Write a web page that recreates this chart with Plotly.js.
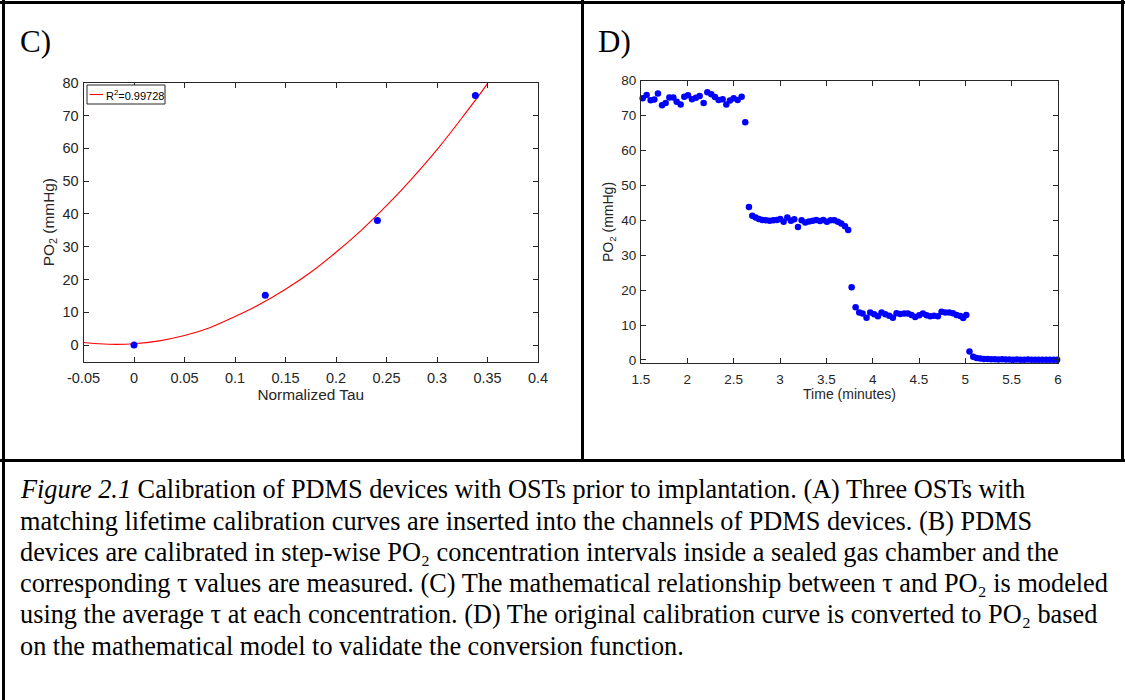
<!DOCTYPE html>
<html>
<head>
<meta charset="utf-8">
<script src="https://cdn.plot.ly/plotly-3.0.1.min.js"></script>
<style>
  html, body { margin: 0; padding: 0; background: #fff; }
  #chart { width: 1125px; height: 700px; }
</style>
</head>
<body>
<div id="chart"></div>
<script>
// ---------- Panel C data ----------
const cTau = [0, 0.13, 0.241, 0.338];
const cPO2 = [0, 15.2, 38.0, 76.1];
const fitTau = [-0.05, -0.025, 0, 0.025, 0.05, 0.075, 0.1, 0.125, 0.15, 0.175, 0.2, 0.225, 0.25, 0.275, 0.3, 0.325, 0.35, 0.352];
const fitPO2 = [0.8, 0.25, 0.4, 1.3, 2.9, 5.3, 8.7, 12.5, 17.0, 22.2, 28.3, 35.0, 42.5, 50.7, 59.6, 69.4, 79.8, 81.0];
const fitName = "R<sup>2</sup>=0.99728";
const cXTickVals = [-0.05, 0, 0.05, 0.1, 0.15, 0.2, 0.25, 0.3, 0.35, 0.4];
const cXTickText = ["-0.05", "0", "0.05", "0.1", "0.15", "0.2", "0.25", "0.3", "0.35", "0.4"];
const cYTickVals = [0, 10, 20, 30, 40, 50, 60, 70, 80];

// ---------- Panel D data ----------
const dTime = [
  1.518, 1.561, 1.604, 1.644, 1.683, 1.727, 1.766, 1.806, 1.849, 1.885, 1.928, 1.967, 2.007, 2.050,
  2.093, 2.133, 2.176, 2.216, 2.259, 2.298, 2.338, 2.381, 2.421, 2.460, 2.500, 2.543, 2.586, 2.625,
  2.665, 2.701, 2.737, 2.773, 2.809, 2.848, 2.888, 2.928, 2.967, 3.003, 3.039, 3.079, 3.118, 3.154,
  3.194, 3.233, 3.273, 3.312, 3.352, 3.391, 3.431, 3.467, 3.506, 3.546, 3.586, 3.625, 3.661, 3.701, 3.736,
  3.773, 3.816, 3.855, 3.891, 3.934, 3.974, 4.017, 4.057, 4.096, 4.136, 4.179, 4.218, 4.258, 4.298,
  4.341, 4.380, 4.420, 4.459, 4.502, 4.542, 4.582, 4.621, 4.661, 4.704, 4.743, 4.783, 4.826, 4.866,
  4.905, 4.945, 4.977, 5.010,
  5.045, 5.085, 5.121, 5.161, 5.200, 5.240, 5.279, 5.319, 5.358, 5.398, 5.437, 5.477, 5.517, 5.556,
  5.596, 5.635, 5.675, 5.714, 5.754, 5.793, 5.833, 5.873, 5.912, 5.952, 5.991
];
const dPO2 = [
  75.0, 75.9, 74.4, 74.6, 76.3, 73.0, 73.6, 75.2, 75.2, 74.0, 73.2, 75.4, 75.8, 74.7,
  75.1, 75.6, 73.6, 76.7, 76.1, 75.3, 74.5, 74.7, 73.2, 74.3, 75.0, 74.5, 75.4, 68.1,
  43.8, 41.3, 40.8, 40.4, 40.1, 40.0, 39.9, 40.0, 40.1, 40.4, 39.6, 40.8, 39.9, 40.3,
  38.1, 40.0, 39.4, 39.7, 39.9, 40.1, 39.8, 40.1, 39.6, 40.0, 40.0, 39.6, 39.1, 38.3, 37.2,
  20.8, 15.1, 13.6, 13.3, 12.1, 13.6, 13.1, 12.5, 13.6, 13.1, 12.7, 12.1, 13.4, 13.2,
  13.3, 13.3, 12.9, 12.3, 12.8, 13.3, 12.8, 12.5, 12.7, 12.5, 13.8, 13.6, 13.6, 13.4,
  12.9, 12.6, 12.0, 12.9,
  2.4, 0.9, 0.6, 0.4, 0.3, 0.25, 0.2, 0.2, 0.15, 0.2, 0.15, 0.15, 0.1, 0.15,
  0.1, 0.1, 0.15, 0.1, 0.1, 0.1, 0.05, 0.1, 0.1, 0.05, 0.1
];
const dXTickVals = [1.5, 2, 2.5, 3, 3.5, 4, 4.5, 5, 5.5, 6];
const dXTickText = ["1.5", "2", "2.5", "3", "3.5", "4", "4.5", "5", "5.5", "6"];
const dYTickVals = [0, 10, 20, 30, 40, 50, 60, 70, 80];

// ---------- Text ----------
const panelLabels = ["C)", "D)"];
const cXTitle = "Normalized Tau";
const dXTitle = "Time (minutes)";
const yTitle = "PO<sub>2</sub> (mmHg)";
const captionLines = [
  "<i>Figure 2.1</i> Calibration of PDMS devices with OSTs prior to implantation. (A) Three OSTs with",
  "matching lifetime calibration curves are inserted into the channels of PDMS devices. (B) PDMS",
  "devices are calibrated in step-wise PO₂ concentration intervals inside a sealed gas chamber and the",
  "corresponding τ values are measured. (C) The mathematical relationship between τ and PO₂ is modeled",
  "using the average τ at each concentration. (D) The original calibration curve is converted to PO₂ based",
  "on the mathematical model to validate the conversion function."
];

// ---------- Layout helpers ----------
const W = 1125, H = 700;
const px = v => v / W;
const py = v => 1 - v / H;
const SANS = "Liberation Sans, Arial, sans-serif";
const SERIF = "Liberation Serif, Times New Roman, serif";
const AX = "#262626";

function axisBase(extra) {
  return Object.assign({
    showline: true, linecolor: AX, linewidth: 1,
    mirror: "ticks", ticks: "inside", ticklen: 5, tickwidth: 1, tickcolor: AX,
    showgrid: false, zeroline: false, fixedrange: true,
    tickmode: "array"
  }, extra);
}

const traces = [
  {
    x: fitTau, y: fitPO2, type: "scatter", mode: "lines",
    line: { color: "#ff0000", width: 1.1, shape: "spline" },
    name: fitName, xaxis: "x", yaxis: "y", showlegend: false, hoverinfo: "skip"
  },
  {
    x: cTau, y: cPO2, type: "scatter", mode: "markers",
    marker: { color: "#0000ff", size: 7 },
    xaxis: "x", yaxis: "y", showlegend: false, cliponaxis: false
  },
  {
    x: dTime, y: dPO2, type: "scatter", mode: "markers",
    marker: { color: "#0000ff", size: 6.5 },
    xaxis: "x2", yaxis: "y2", showlegend: false, cliponaxis: false
  }
];

const borderLine = { color: "#000", width: 3 };
const shapes = [
  { type: "line", xref: "paper", yref: "paper", x0: 0, x1: 1, y0: py(2.5), y1: py(2.5), line: borderLine },
  { type: "line", xref: "paper", yref: "paper", x0: px(3.5), x1: px(3.5), y0: 0, y1: 1, line: borderLine },
  { type: "line", xref: "paper", yref: "paper", x0: px(1122.5), x1: px(1122.5), y0: py(461), y1: 1, line: borderLine },
  { type: "line", xref: "paper", yref: "paper", x0: px(582.5), x1: px(582.5), y0: py(461), y1: 1, line: borderLine },
  { type: "line", xref: "paper", yref: "paper", x0: 0, x1: 1, y0: py(460.5), y1: py(460.5), line: borderLine },
  // legend box of panel C
  { type: "rect", xref: "paper", yref: "paper", x0: px(87), x1: px(165), y0: py(104), y1: py(85),
    line: { color: AX, width: 1 }, fillcolor: "#fff", layer: "above" },
  { type: "line", xref: "paper", yref: "paper", x0: px(89.5), x1: px(103), y0: py(94.5), y1: py(94.5),
    line: { color: "#ff0000", width: 1.1 }, layer: "above" }
];

const annotations = [
  { text: panelLabels[0], xref: "paper", yref: "paper", x: px(18), y: py(41), xanchor: "left", yanchor: "middle",
    showarrow: false, font: { family: SERIF, size: 31, color: "#000" } },
  { text: panelLabels[1], xref: "paper", yref: "paper", x: px(596), y: py(41), xanchor: "left", yanchor: "middle",
    showarrow: false, font: { family: SERIF, size: 31, color: "#000" } },
  { text: fitName, xref: "paper", yref: "paper", x: px(103.5), y: py(94.5), xanchor: "left", yanchor: "middle",
    showarrow: false, font: { family: SANS, size: 11, color: "#000" } }
];
const captionY = [489, 521, 552, 583, 614, 646];
captionLines.forEach((t, i) => {
  annotations.push({
    text: t, xref: "paper", yref: "paper", x: px(18), y: py(captionY[i]),
    xanchor: "left", yanchor: "middle", showarrow: false, align: "left",
    font: { family: SERIF, size: 26.3, color: "#000" }
  });
});

const layout = {
  width: W, height: H,
  margin: { l: 0, r: 0, t: 0, b: 0 },
  paper_bgcolor: "#fff", plot_bgcolor: "#fff",
  showlegend: false,
  xaxis: axisBase({
    domain: [px(83.5), px(538)], anchor: "y", range: [-0.05, 0.4],
    tickvals: cXTickVals, ticktext: cXTickText, ticklabelstandoff: 3,
    tickfont: { family: SANS, size: 14.5, color: AX },
    title: { text: cXTitle, font: { family: SANS, size: 15.4, color: AX }, standoff: 2 }
  }),
  yaxis: axisBase({
    domain: [py(361.5), py(82.7)], anchor: "x", range: [-5, 80],
    tickvals: cYTickVals, ticklabelstandoff: 1,
    tickfont: { family: SANS, size: 14.5, color: AX },
    title: { text: yTitle, font: { family: SANS, size: 15.4, color: AX }, standoff: 4 }
  }),
  xaxis2: axisBase({
    domain: [px(641), px(1058)], anchor: "y2", range: [1.5, 6],
    tickvals: dXTickVals, ticktext: dXTickText, ticklabelstandoff: 3,
    tickfont: { family: SANS, size: 13.5, color: AX },
    title: { text: dXTitle, font: { family: SANS, size: 14, color: AX }, standoff: 2 }
  }),
  yaxis2: axisBase({
    domain: [py(363.3), py(80.7)], anchor: "x2", range: [-0.95, 80],
    tickvals: dYTickVals, ticklabelstandoff: 1,
    tickfont: { family: SANS, size: 13.5, color: AX },
    title: { text: yTitle, font: { family: SANS, size: 14, color: AX }, standoff: 4 }
  }),
  shapes: shapes,
  annotations: annotations
};

Plotly.newPlot("chart", traces, layout, { staticPlot: true, displayModeBar: false });
</script>
</body>
</html>
